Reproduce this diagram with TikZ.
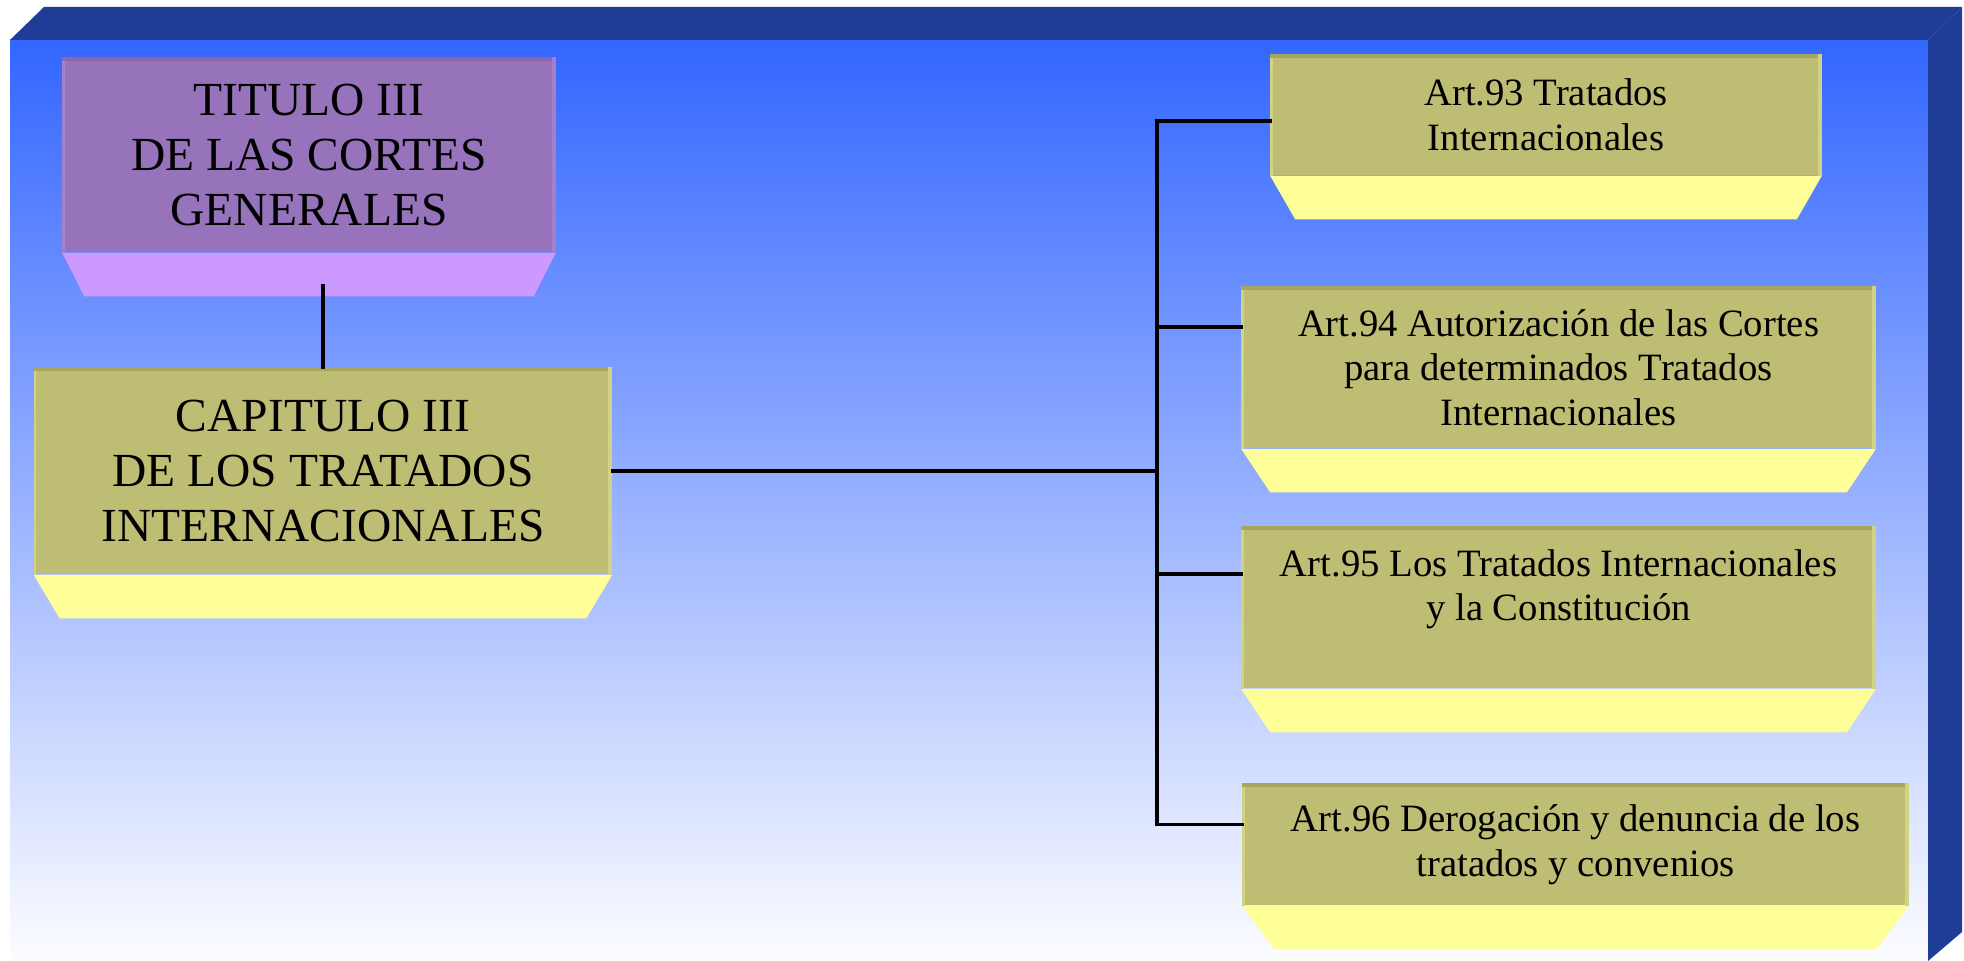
\documentclass[tikz,border=0pt]{standalone}
\usepackage{fontspec}
\setmainfont{Liberation Serif}
\usetikzlibrary{positioning, calc}

\definecolor{frameblue}{RGB}{31,60,150}
\definecolor{skytop}{RGB}{51,102,255}
\definecolor{skymid}{RGB}{178,188,255}
\definecolor{skybottom}{RGB}{253,253,255}
\definecolor{olivebox}{RGB}{189,189,115}
\definecolor{oliveedge}{RGB}{166,166,99}
\definecolor{olivelight}{RGB}{210,210,135}
\definecolor{yellowside}{RGB}{255,255,153}
\definecolor{purplebox}{RGB}{150,115,186}
\definecolor{purpleedge}{RGB}{138,104,176}
\definecolor{purplelight}{RGB}{165,128,200}
\definecolor{purpleside}{RGB}{204,153,255}

\tikzset{
	artface/.style={fill=olivebox, draw=none, align=center, inner sep=0pt, font=\fontsize{11}{12.7}\selectfont},
	bigface/.style={artface, font=\fontsize{13.5}{15.6}\selectfont},
	branch/.style={line width=1pt, line cap=rect},
}

% lower face of a box, darker top edge, lighter side edges
\newcommand{\boxbottom}[5]{%
	\fill[#2] (#1.south west) -- (#1.south east) -- ([xshift=-#5,yshift=-0.435cm]#1.south east) -- ([xshift=#5,yshift=-0.435cm]#1.south west) -- cycle;
	\draw[#3, line width=1.2pt] ([yshift=-0.6pt]#1.north west) -- ([yshift=-0.6pt]#1.north east);
	\draw[#4, line width=1.2pt] ([xshift=-0.6pt]#1.north east) -- ([xshift=-0.6pt]#1.south east);
	\draw[#4, line width=0.8pt] ([xshift=0.4pt,yshift=-1.2pt]#1.north west) -- ([xshift=0.4pt]#1.south west);}

\begin{document}
\begin{tikzpicture}[x=0.01cm, y=-0.01cm]
		\useasboundingbox (0, 0) rectangle (1964, 961);
		% frame
		\fill[shading=axis, top color=skytop, middle color=skymid, bottom color=skybottom] (10, 40) rectangle (1928, 961);
		\fill[frameblue] (10, 40) -- (44, 7) -- (1962, 7) -- (1928, 40) --cycle;
		\fill[frameblue] (1928, 40) -- (1962, 7) -- (1962, 932) -- (1928, 961) --cycle;

		\node[bigface, fill=purplebox, minimum width=4.92cm, minimum height=1.94cm] (titulo) at (309, 155) {TITULO III\\DE LAS CORTES\\GENERALES};
		\node[bigface, minimum width=5.77cm, minimum height=2.06cm] (capitulo) at (323, 471) {CAPITULO III\\DE LOS TRATADOS\\INTERNACIONALES};
		\node[artface, minimum width=5.5cm, minimum height=1.2cm] (art93) at (1546, 115) {Art.93 Tratados\\Internacionales};
		\node[artface, minimum width=6.33cm, minimum height=1.61cm] (art94) at (1558.5, 367.5) {Art.94 Autorización de las Cortes\\para determinados Tratados\\Internacionales};
		\node[artface, minimum width=6.33cm, minimum height=1.61cm] (art95) at (1558.5, 607.5) {Art.95 Los Tratados Internacionales\\y la Constitución\\\mbox{}};
		\node[artface, minimum width=6.65cm, minimum height=1.21cm] (art96) at (1575.5, 844.5) {Art.96 Derogación y denuncia de los\\tratados y convenios};

		\boxbottom{titulo}{purpleside}{purpleedge}{purplelight}{0.22cm}
		\boxbottom{capitulo}{yellowside}{oliveedge}{olivelight}{0.26cm}
		\boxbottom{art93}{yellowside}{oliveedge}{olivelight}{0.25cm}
		\boxbottom{art94}{yellowside}{oliveedge}{olivelight}{0.29cm}
		\boxbottom{art95}{yellowside}{oliveedge}{olivelight}{0.29cm}
		\boxbottom{art96}{yellowside}{oliveedge}{olivelight}{0.32cm}

		% connectors
		\coordinate (trunk) at (1157, 471);
		\coordinate (b93) at ($(art93.north west)+(0, 67)$);
		\coordinate (b94) at ($(art94.north west)+(0, 41)$);
		\coordinate (b95) at ($(art95.north west)+(0, 48)$);
		\coordinate (b96) at ($(art96.north west)+(0, 41)$);
		\draw[branch] ($(titulo.south -| capitulo.north)+(0, 33)$) -- (capitulo.north);
		\draw[branch] (capitulo.east) -- (trunk);
		\draw[branch] (trunk |- b93) -- (trunk |- b96);
		\draw[branch] (trunk |- b93) -- (b93);
		\draw[branch] (trunk |- b94) -- (b94);
		\draw[branch] (trunk |- b95) -- (b95);
		\draw[branch] (trunk |- b96) -- (b96);
	\end{tikzpicture}
\end{document}
